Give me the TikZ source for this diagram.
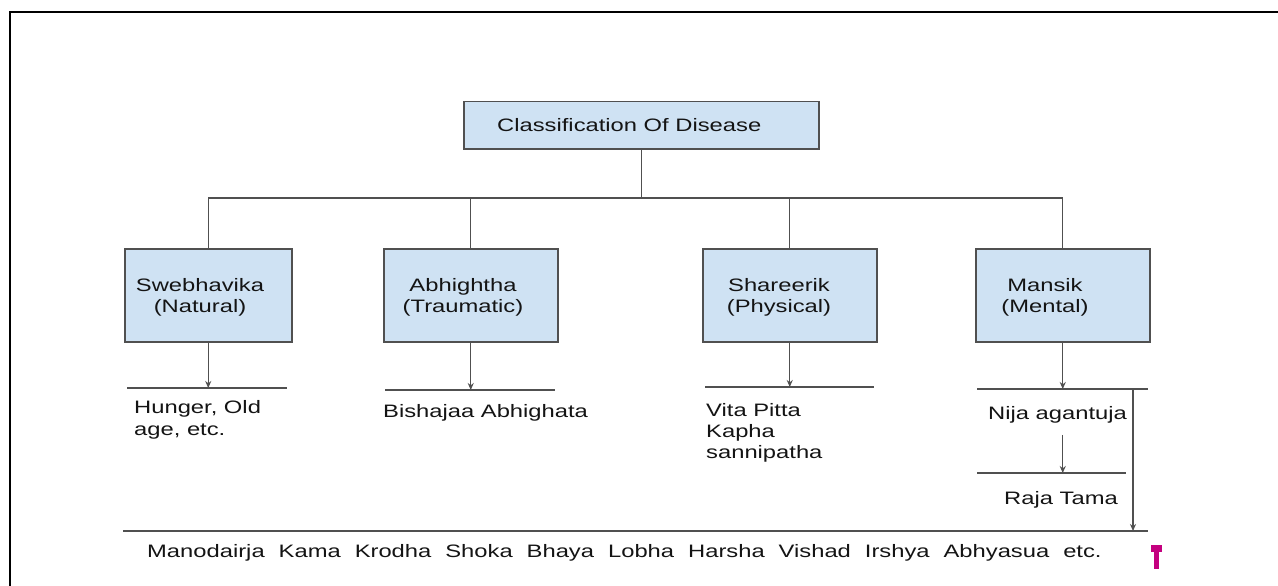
\documentclass[tikz,border=0pt]{standalone}
\usepackage{fontspec}
\setmainfont[FakeStretch=1.32]{Liberation Sans}
\usetikzlibrary{arrows.meta}
\definecolor{boxfill}{HTML}{CFE2F3}
\definecolor{edge}{HTML}{505050}
\definecolor{ink}{HTML}{141414}
\definecolor{marker}{HTML}{C4007F}
\begin{document}
\begin{tikzpicture}[x=1pt,y=-1pt,
  catbox/.style={draw=edge, line width=1.5pt, fill=boxfill, inner sep=0pt, anchor=north west},
  txt/.style={text=ink, inner sep=0pt, font=\fontsize{18}{21}\selectfont},
  link/.style={draw=edge, line width=1.4pt},
  arr/.style={link, -{Stealth[length=7pt,width=6pt]}},
  rule/.style={draw=edge, line width=1.4pt}]
\useasboundingbox (0,0) rectangle (1278,586);
\fill[white] (0,0) rectangle (1278,586);
% page frame
\draw[line width=2.4pt] (10,586) -- (10,12) -- (1278,12);

% boxes
\node[catbox, minimum width=355pt, minimum height=47pt] (root) at (463,101) {};
\node[catbox, minimum width=167pt, minimum height=93pt] (b1) at (124,248) {};
\node[catbox, minimum width=174pt, minimum height=93pt] (b2) at (383,248) {};
\node[catbox, minimum width=174pt, minimum height=93pt] (b3) at (702,248) {};
\node[catbox, minimum width=174pt, minimum height=93pt] (b4) at (975,248) {};

% box labels
\node[txt, anchor=base west] (rootlabel) at (497,131.5) {Classification Of Disease};
\node[txt, anchor=north, align=center] (l1) at (200,278.5) {Swebhavika\\(Natural)};
\node[txt, anchor=north, align=center] (l2) at (463,278.5) {Abhightha\\(Traumatic)};
\node[txt, anchor=north, align=center] (l3) at (779,278.5) {Shareerik\\(Physical)};
\node[txt, anchor=north, align=center] (l4) at (1045,278.5) {Mansik\\(Mental)};

% tree connectors
\coordinate (bus) at (641,198);
\draw[link] (root.south) -- (root.south |- bus);
\draw[link] (b1.north) -- (b1.north |- bus) -- (b4.north |- bus) -- (b4.north);
\draw[link] (b2.north) -- (b2.north |- bus);
\draw[link] (b3.north) -- (b3.north |- bus);

% rules under the categories
\coordinate (r1a) at (127,388);  \coordinate (r1b) at (287,388);
\coordinate (r2a) at (385,390);  \coordinate (r2b) at (555,390);
\coordinate (r3a) at (705,387);  \coordinate (r3b) at (874,387);
\coordinate (r4a) at (977,389);  \coordinate (r4b) at (1148,389);
\coordinate (r5a) at (977,473);  \coordinate (r5b) at (1126,473);
\coordinate (r6a) at (123,531);  \coordinate (r6b) at (1148,531);
\foreach \r in {1,...,6} \draw[rule] (r\r a) -- (r\r b);

% sub-item texts
\node[txt, anchor=north west, align=left, font=\fontsize{18}{22}\selectfont] (s1) at (134,400.5) {Hunger, Old\\age, etc.};
\node[txt, anchor=base west] (s2) at (383,417.5) {Bishajaa Abhighata};
\node[txt, anchor=north west, align=left] (s3) at (706,403.5) {Vita Pitta\\Kapha\\sannipatha};
\node[txt, anchor=base west] (nija) at (988,419) {Nija agantuja};
\node[txt, anchor=base west] (raja) at (1004,504) {Raja Tama};
\node[txt, anchor=base west] (list) at (147,557) {Manodairja\hspace{14pt}Kama\hspace{14pt}Krodha\hspace{14pt}Shoka\hspace{14pt}Bhaya\hspace{14pt}Lobha\hspace{14pt}Harsha\hspace{14pt}Vishad\hspace{14pt}Irshya\hspace{14pt}Abhyasua\hspace{14pt}etc.};

% arrows
\draw[arr] (b1.south) -- (b1.south |- r1a);
\draw[arr] (b2.south) -- (b2.south |- r2a);
\draw[arr] (b3.south) -- (b3.south |- r3a);
\draw[arr] (b4.south) -- (b4.south |- r4a);
\draw[arr, shorten <=12pt] (nija.south -| b4.south) -- (b4.south |- r5a);
\coordinate (m1) at (1133,389);
\draw[arr] (m1) -- (m1 |- r6a);

% marker
\fill[marker] (1151,545) rectangle (1162,552);
\fill[marker] (1154,552) rectangle (1159,569);
\end{tikzpicture}
\end{document}
